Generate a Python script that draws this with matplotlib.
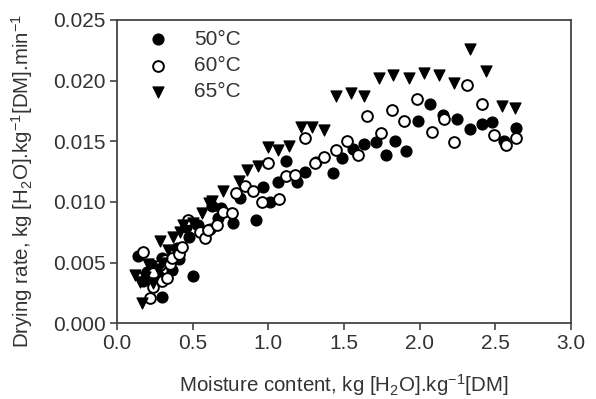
"""Drying rate vs moisture content at three temperatures."""

import matplotlib
matplotlib.use("Agg")
import matplotlib.pyplot as plt

plt.rcParams["font.family"] = ["Liberation Sans", "DejaVu Sans"]
plt.rcParams["mathtext.default"] = "regular"

# 50 C (filled circles)
x50 = [0.14, 0.17, 0.20, 0.23, 0.27, 0.30, 0.30, 0.365, 0.40, 0.41, 0.46, 0.48,
       0.50, 0.535, 0.615, 0.63, 0.67, 0.69, 0.765, 0.815, 0.92, 0.965, 1.01,
       1.065, 1.12, 1.19, 1.24, 1.315, 1.43, 1.49, 1.56, 1.63, 1.71, 1.78, 1.84,
       1.91, 1.99, 2.07, 2.155, 2.245, 2.33, 2.41, 2.48, 2.56, 2.64]
y50 = [0.0055, 0.0035, 0.0042, 0.0048, 0.0040, 0.0022, 0.0054, 0.0044, 0.0062,
       0.0053, 0.0079, 0.0071, 0.0039, 0.0081, 0.0078, 0.0097, 0.0087, 0.0095,
       0.0083, 0.0103, 0.0085, 0.0112, 0.0100, 0.0116, 0.0134, 0.0116, 0.0125,
       0.0133, 0.0124, 0.0136, 0.0144, 0.0148, 0.0149, 0.0139, 0.0150, 0.0142,
       0.0167, 0.0181, 0.0172, 0.0168, 0.0160, 0.0164, 0.0166, 0.0150, 0.0161]

# 60 C (open circles)
x60 = [0.17, 0.22, 0.24, 0.24, 0.285, 0.30, 0.32, 0.33, 0.35, 0.365, 0.41, 0.43,
       0.47, 0.55, 0.58, 0.60, 0.66, 0.70, 0.76, 0.79, 0.85, 0.90, 0.96, 1.00,
       1.07, 1.12, 1.18, 1.24, 1.31, 1.37, 1.45, 1.52, 1.59, 1.65, 1.745, 1.82,
       1.90, 1.98, 2.08, 2.16, 2.23, 2.31, 2.41, 2.49, 2.57, 2.64]
y60 = [0.0059, 0.0021, 0.0030, 0.0041, 0.0048, 0.0035, 0.0052, 0.0037, 0.0049,
       0.0054, 0.0057, 0.0063, 0.0085, 0.0075, 0.0070, 0.0077, 0.0081, 0.0092,
       0.0091, 0.0107, 0.0113, 0.0109, 0.0100, 0.0132, 0.0102, 0.0121, 0.0122,
       0.0153, 0.0132, 0.0137, 0.0143, 0.0150, 0.0139, 0.0171, 0.0157, 0.0176,
       0.0167, 0.0185, 0.0158, 0.0168, 0.0149, 0.0196, 0.0181, 0.0155, 0.0147,
       0.0153]

# 65 C (filled down triangles)
x65 = [0.12, 0.15, 0.165, 0.185, 0.205, 0.24, 0.27, 0.285, 0.30, 0.34, 0.37,
       0.415, 0.44, 0.50, 0.56, 0.61, 0.63, 0.70, 0.81, 0.86, 0.93, 1.00, 1.065,
       1.14, 1.215, 1.29, 1.37, 1.45, 1.545, 1.63, 1.73, 1.825, 1.93, 2.03,
       2.13, 2.23, 2.333, 2.44, 2.545, 2.63]
y65 = [0.0040, 0.0034, 0.0017, 0.0038, 0.0049, 0.0033, 0.0045, 0.0068, 0.0050,
       0.0060, 0.0071, 0.0075, 0.0081, 0.0083, 0.0091, 0.0099, 0.0101, 0.0109,
       0.0117, 0.0126, 0.0130, 0.0145, 0.0143, 0.0146, 0.0162, 0.0162, 0.0159,
       0.0187, 0.0190, 0.0187, 0.0202, 0.0205, 0.0202, 0.0206, 0.0205, 0.0198,
       0.0226, 0.0208, 0.0179, 0.0177]

labels = ["50\u00b0C", "60\u00b0C", "65\u00b0C"]

fig = plt.figure(figsize=(5.96, 3.99), dpi=100)
ax = fig.add_axes([0.196, 0.19, 0.762, 0.76])

ax.scatter(x50, y50, s=60, marker="o", facecolor="black", edgecolor="black",
           linewidth=1.0, label=labels[0], zorder=3)
ax.scatter(x60, y60, s=60, marker="o", facecolor="white", edgecolor="black",
           linewidth=1.4, label=labels[1], zorder=3)
ax.scatter(x65, y65, s=64, marker="v", facecolor="black", edgecolor="black",
           linewidth=0.8, label=labels[2], zorder=3)

ax.set_xlim(0, 3.0)
ax.set_ylim(0, 0.025)
ax.set_xticks([0.0, 0.5, 1.0, 1.5, 2.0, 2.5, 3.0])
ax.set_yticks([0.000, 0.005, 0.010, 0.015, 0.020, 0.025])
ax.xaxis.set_major_formatter(plt.FormatStrFormatter("%.1f"))
ax.yaxis.set_major_formatter(plt.FormatStrFormatter("%.3f"))
ax.tick_params(direction="out", length=5, width=1.1, labelsize=15,
               colors="#333333", pad=3)
for sp in ax.spines.values():
    sp.set_color("#444444")
    sp.set_linewidth(1.3)

ax.set_xlabel("Moisture content, kg [H$_2$O].kg$^{-1}$[DM]", fontsize=14.8,
              color="#333333")
ax.set_ylabel("Drying rate, kg [H$_2$O].kg$^{-1}$[DM].min$^{-1}$",
              fontsize=14.8, color="#333333")
ax.xaxis.set_label_coords(0.5, -0.16)
ax.yaxis.set_label_coords(-0.18, 0.469)

ax.legend(loc="upper left", frameon=False, fontsize=15, handlelength=1.0,
          handletextpad=1.2, labelspacing=0.35, borderaxespad=0.0,
          bbox_to_anchor=(0.05, 0.995), scatterpoints=1,
          labelcolor="#333333")

fig.savefig("out.png", dpi=100)
